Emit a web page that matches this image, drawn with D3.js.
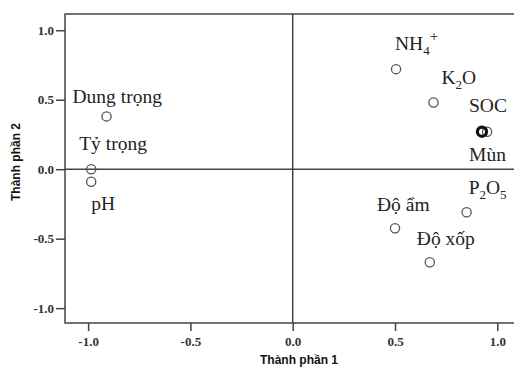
<!DOCTYPE html>
<html>
<head>
<meta charset="utf-8">
<script src="https://cdn.jsdelivr.net/npm/d3@7"></script>
<style>
  body { margin: 0; background: #fff; }
  svg { display: block; }
</style>
</head>
<body>
<script>
// loadings (component 1, component 2)
let labels = ['Dung trọng', 'Tỷ trọng', 'pH', 'NH4+', 'K2O', 'SOC', 'Mùn', 'P2O5', 'Độ ẩm', 'Độ xốp'];
let comp1 = [-0.91, -0.985, -0.985, 0.505, 0.688, 0.925, 0.95, 0.85, 0.50, 0.67];
let comp2 = [0.38, 0.0, -0.09, 0.72, 0.48, 0.27, 0.27, -0.31, -0.425, -0.67];
let xTicks = [-1.0, -0.5, 0.0, 0.5, 1.0];
let yTicks = [-1.0, -0.5, 0.0, 0.5, 1.0];

// label placement (px offset from the point)
let labelDx = [-34, -12, 0, -1, 8, -13, -18, 2, -18, -13];
let labelDy = [-13, -19, 28, -19, -19, -20, 29, -18, -17, -17];

let width = 514, height = 368;
let margin = {top: 14, left: 65, bottom: 45};

let svg = d3.select('body').append('svg')
    .attr('width', width)
    .attr('height', height);

let x = d3.scaleLinear().domain([-1.113, 1.15]).range([margin.left, margin.left + 204.6 * 2.263]);
let y = d3.scaleLinear().domain([-1.107, 1.117]).range([height - margin.bottom, margin.top]);

let lineColor = '#444';

// frame
svg.append('rect')
    .attr('x', x.range()[0]).attr('y', y.range()[1])
    .attr('width', x.range()[1] - x.range()[0])
    .attr('height', y.range()[0] - y.range()[1])
    .attr('fill', 'none').attr('stroke', lineColor).attr('stroke-width', 1.5);

// reference lines through 0
svg.append('line')
    .attr('x1', x(0)).attr('x2', x(0))
    .attr('y1', y.range()[1]).attr('y2', y.range()[0])
    .attr('stroke', lineColor).attr('stroke-width', 1.5);
svg.append('line')
    .attr('x1', x.range()[0]).attr('x2', x.range()[1])
    .attr('y1', y(0)).attr('y2', y(0))
    .attr('stroke', lineColor).attr('stroke-width', 1.5);

// axes
let xAxis = svg.append('g')
    .attr('transform', `translate(0,${y.range()[0]})`)
    .call(d3.axisBottom(x).tickValues(xTicks).tickFormat(d3.format('.1f')).tickSize(8).tickPadding(6));
let yAxis = svg.append('g')
    .attr('transform', `translate(${x.range()[0]},0)`)
    .call(d3.axisLeft(y).tickValues(yTicks).tickFormat(d3.format('.1f')).tickSize(9).tickPadding(2));

[xAxis, yAxis].forEach(a => {
    a.select('.domain').remove();
    a.selectAll('.tick line').attr('stroke', lineColor).attr('stroke-width', 1.5);
    a.selectAll('.tick text')
        .attr('fill', '#333')
        .style('font-family', '"Liberation Serif", serif')
        .style('font-weight', 'bold')
        .style('font-size', '13px');
});
// d3 uses a true minus sign, the picture has a hyphen
svg.selectAll('.tick text').text(d => d3.format('.1f')(d).replace('−', '-'));

// axis titles
svg.append('text')
    .attr('x', 299).attr('y', 364)
    .attr('text-anchor', 'middle')
    .style('font-family', '"Liberation Sans", Arial, sans-serif')
    .style('font-weight', 'bold')
    .style('font-size', '12px')
    .attr('fill', '#111')
    .text('Thành phần 1');
svg.append('text')
    .attr('transform', 'translate(20,162) rotate(-90)')
    .attr('text-anchor', 'middle')
    .style('font-family', '"Liberation Sans", Arial, sans-serif')
    .style('font-weight', 'bold')
    .style('font-size', '12px')
    .attr('fill', '#111')
    .text('Thành phần 2');

// points
let pts = labels.map((l, i) => ({label: l, c1: comp1[i], c2: comp2[i], dx: labelDx[i], dy: labelDy[i]}));

svg.selectAll('.pt').data(pts).enter().append('circle')
    .attr('class', 'pt')
    .attr('cx', d => x(d.c1))
    .attr('cy', d => y(d.c2))
    .attr('r', 4.6)
    .attr('fill', 'none')
    .attr('stroke', '#555')
    .attr('stroke-width', 1.3);

// the SOC / Mùn pile looks solid in the picture
svg.append('circle')
    .attr('cx', x(comp1[5])).attr('cy', y(comp2[5]))
    .attr('r', 4.6).attr('fill', 'none')
    .attr('stroke', '#111').attr('stroke-width', 3.2);

// labels, with sub/superscripts for the chemistry names
// [text, baseline shift, font size]
let parts = {
    'NH4+': [['NH', 0, 19.5], ['4', 5, 13], ['+', -9, 15]],
    'K2O': [['K', 0, 19.5], ['2', 5, 13], ['O', 0, 19.5]],
    'P2O5': [['P', 0, 19.5], ['2', 5, 13], ['O', 0, 19.5], ['5', 5, 13]]
};

let lbl = svg.selectAll('.lbl').data(pts).enter().append('text')
    .attr('class', 'lbl')
    .attr('x', d => x(d.c1) + d.dx)
    .attr('y', d => y(d.c2) + d.dy)
    .style('font-family', '"Liberation Serif", "Times New Roman", serif')
    .style('font-size', '19.5px')
    .attr('fill', '#222');

lbl.each(function(d) {
    let t = d3.select(this);
    if (!parts[d.label]) { t.text(d.label); return; }
    let prev = 0;
    parts[d.label].forEach(p => {
        t.append('tspan')
            .attr('dy', p[1] - prev)
            .style('font-size', p[2] + 'px')
            .text(p[0]);
        prev = p[1];
    });
});
</script>
</body>
</html>
